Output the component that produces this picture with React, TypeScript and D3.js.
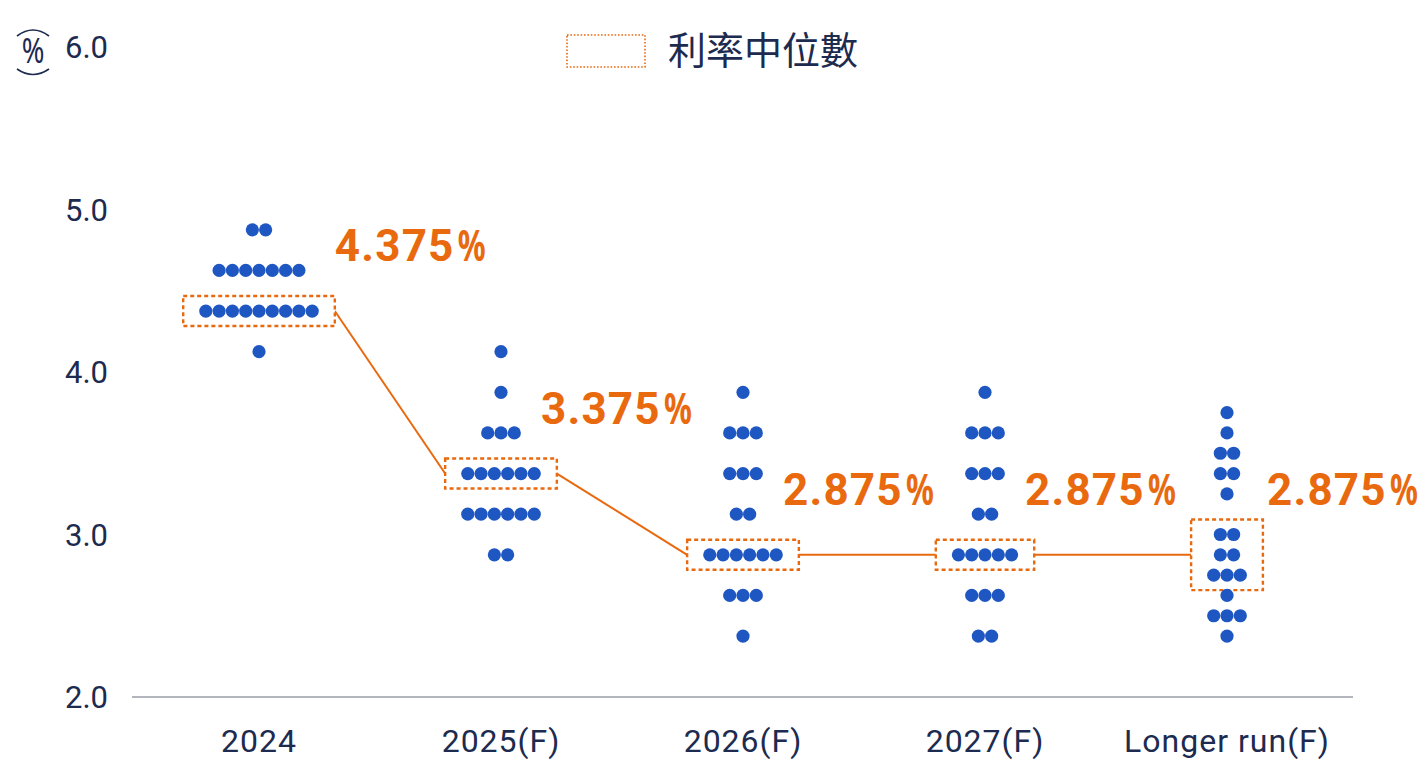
import React from "react";
import * as d3 from "d3";

// ---------- data ----------
const categories = ["2024", "2025(F)", "2026(F)", "2027(F)", "Longer run(F)"];

// each entry: [rate level, number of participants at that level]
const dots2024: [number, number][] = [[4.875, 2], [4.625, 7], [4.375, 9], [4.125, 1]];
const dots2025: [number, number][] = [[4.125, 1], [3.875, 1], [3.625, 3], [3.375, 6], [3.125, 6], [2.875, 2]];
const dots2026: [number, number][] = [[3.875, 1], [3.625, 3], [3.375, 3], [3.125, 2], [2.875, 6], [2.625, 3], [2.375, 1]];
const dots2027: [number, number][] = [[3.875, 1], [3.625, 3], [3.375, 3], [3.125, 2], [2.875, 5], [2.625, 3], [2.375, 2]];
const dotsLonger: [number, number][] = [[3.75, 1], [3.625, 1], [3.5, 2], [3.375, 2], [3.25, 1], [3.0, 2], [2.875, 2], [2.75, 3], [2.625, 1], [2.5, 3], [2.375, 1]];
const dotSets = [dots2024, dots2025, dots2026, dots2027, dotsLonger];

const medians = [4.375, 3.375, 2.875, 2.875, 2.875];
const medianLabels = ["4.375", "3.375", "2.875", "2.875", "2.875"];
// rows covered by the median box [low, high]
const medianBoxRange: [number, number][] = [[4.375, 4.375], [3.375, 3.375], [2.875, 2.875], [2.875, 2.875], [2.75, 3.0]];

const yTicks = [2, 3, 4, 5, 6];
const legendLabel = "利率中位數";

// ---------- style ----------
const NAVY = "#1c2b4f";
const BLUE = "#1f57c2";
const ORANGE = "#e9690f";
const FONT = "Roboto, 'Noto Sans', sans-serif";
const PCT_FONT = "'Noto Sans', 'DejaVu Sans', sans-serif";

export default function App() {
  const W = 1424, H = 780;
  const x = d3.scaleBand<string>().domain(categories).range([138, 1348]);
  const y = d3.scaleLinear().domain([2, 6]).range([697, 47]);
  const sp = 13.3, r = 6.6, padX = 16, padY = 15;

  const cx = (i: number) => (x(categories[i]) as number) + x.bandwidth() / 2;

  const boxes = categories.map((c, i) => {
    const [lo, hi] = medianBoxRange[i];
    const rows = dotSets[i].filter(([v]) => v >= lo - 1e-9 && v <= hi + 1e-9);
    const maxN = d3.max(rows, (d) => d[1]) as number;
    const half = ((maxN - 1) / 2) * sp + r + padX;
    return { x0: cx(i) - half, x1: cx(i) + half, y0: y(hi) - padY, y1: y(lo) + padY, half, maxN };
  });

  const linePts: [number, number][][] = [];
  for (let i = 0; i < categories.length - 1; i++) {
    linePts.push([[boxes[i].x1, y(medians[i])], [boxes[i + 1].x0, y(medians[i + 1])]]);
  }
  const line = d3.line();

  return (
    <svg width={W} height={H} style={{ position: "absolute", left: 0, top: 0, background: "#fff" }} fontFamily={FONT}>
      {/* unit label */}
      <path d="M17,36 Q33,24 49,36" fill="none" stroke={NAVY} strokeWidth={1.6} />
      <text transform="translate(33,63) scale(0.78,1)" textAnchor="middle" fontSize={35} fill={NAVY} fontFamily={PCT_FONT}>%</text>
      <path d="M17,69 Q33,80 49,69" fill="none" stroke={NAVY} strokeWidth={1.6} />

      {/* y tick labels */}
      {yTicks.map((t) => (
        <text key={t} x={108} y={y(t)} dy="0.36em" textAnchor="end" fontSize={31} fill={NAVY}>
          {t.toFixed(1)}
        </text>
      ))}

      {/* axis baseline */}
      <line x1={132} x2={1353} y1={y(2)} y2={y(2)} stroke="#9a9ca6" strokeWidth={1.6} />

      {/* x labels */}
      {categories.map((c, i) => (
        <text key={c} x={cx(i)} y={752} textAnchor="middle" fontSize={32} fill={NAVY} letterSpacing={1}>
          {c}
        </text>
      ))}

      {/* legend */}
      <rect x={567} y={35} width={78} height={32} fill="none" stroke={ORANGE} strokeWidth={1.6} strokeDasharray="1.6,1.8" />
      <text x={668} y={64} fontSize={38} fill={NAVY} fontFamily="'Noto Sans CJK TC', 'Noto Sans CJK SC', sans-serif">
        {legendLabel}
      </text>

      {/* median connecting line */}
      {linePts.map((p, i) => (
        <path key={i} d={line(p) as string} stroke={ORANGE} strokeWidth={2} fill="none" />
      ))}

      {/* median boxes */}
      {boxes.map((b, i) => (
        <rect key={i} x={b.x0} y={b.y0} width={b.x1 - b.x0} height={b.y1 - b.y0} fill="#fff" stroke={ORANGE} strokeWidth={2.4} strokeDasharray="4,3" />
      ))}

      {/* dots */}
      {dotSets.map((set, i) =>
        set.map(([v, n]) =>
          d3.range(n).map((j) => (
            <circle key={`${i}-${v}-${j}`} cx={cx(i) + (j - (n - 1) / 2) * sp} cy={y(v)} r={r} fill={BLUE} />
          ))
        )
      )}

      {/* median labels */}
      {medianLabels.map((m, i) => {
        const lx = cx(i) + (boxes[i].maxN >= 8 ? boxes[i].half : 40);
        const ly = y(medians[i]) - 50;
        return (
          <g key={i} fill={ORANGE} fontWeight={700}>
            <text x={lx} y={ly} fontSize={44} letterSpacing={1.2}>{m}</text>
            <text transform={`translate(${lx + 123},${ly}) scale(0.72,1)`} fontSize={43} fontFamily={PCT_FONT}>%</text>
          </g>
        );
      })}
    </svg>
  );
}
